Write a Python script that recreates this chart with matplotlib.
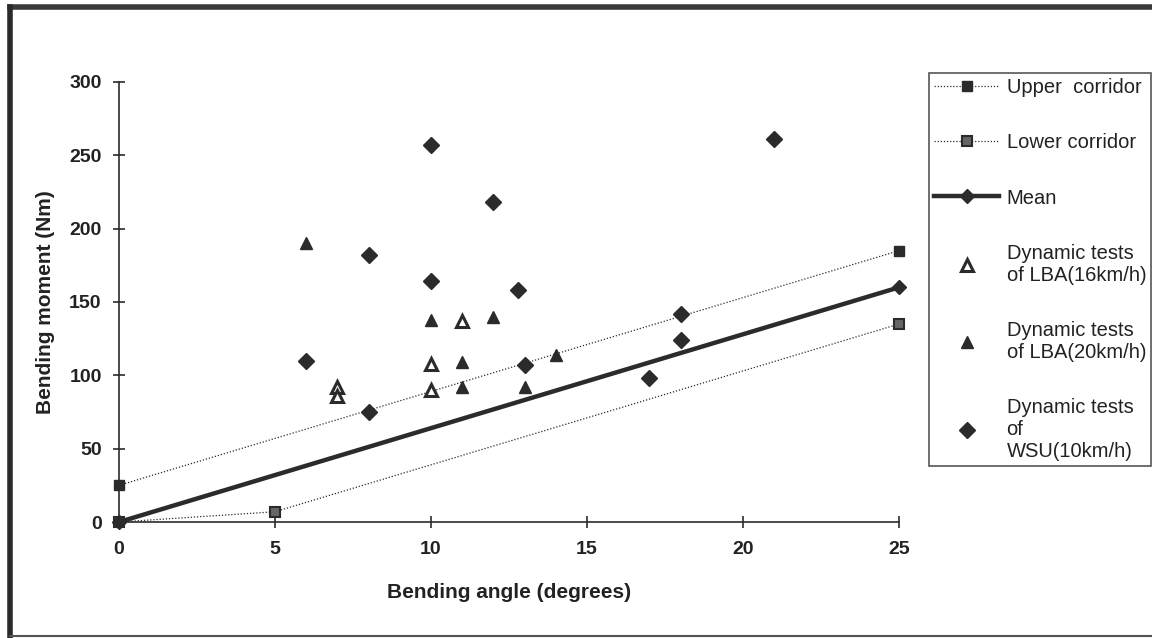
import matplotlib.pyplot as plt
from matplotlib.lines import Line2D

plt.rcParams["font.family"] = ["Liberation Sans", "DejaVu Sans"]

# ==============================================
# DATA

upper_x = [0, 25]
upper_y = [25, 185]

lower_x = [0, 5, 25]
lower_y = [0, 7, 135]

mean_x = [0, 25]
mean_y = [0, 160]

lba16_x = [7, 7, 10, 10, 11]
lba16_y = [92, 86, 108, 90, 137]

lba20_x = [6, 10, 11, 11, 12, 13, 14]
lba20_y = [190, 138, 109, 92, 140, 92, 114]

wsu_x = [6, 8, 8, 10, 10, 12, 12.8, 13, 17, 18, 18, 21]
wsu_y = [110, 182, 75, 257, 164, 218, 158, 107, 98, 142, 124, 261]

x_ticks = [0, 5, 10, 15, 20, 25]
y_ticks = [0, 50, 100, 150, 200, 250, 300]

labels = [
    "Upper  corridor",
    "Lower corridor",
    "Mean",
    "Dynamic tests\nof LBA(16km/h)",
    "Dynamic tests\nof LBA(20km/h)",
    "Dynamic tests\nof\nWSU(10km/h)",
]

# ==============================================
# PLOT

dark = "#2b2b2b"
txt = "#222222"

fig = plt.figure(figsize=(11.52, 6.38), dpi=100)
ax = fig.add_axes([0.1033, 0.1818, 0.6771, 0.6897])

h_up, = ax.plot(upper_x, upper_y, color=dark, linestyle=(0, (1, 1.5)), linewidth=0.9,
                marker="s", markersize=7, markerfacecolor=dark, markeredgecolor=dark,
                clip_on=False, zorder=3)
h_lo, = ax.plot(lower_x, lower_y, color=dark, linestyle=(0, (1, 1.5)), linewidth=0.9,
                marker="s", markersize=7, markerfacecolor="#666666", markeredgecolor=dark,
                markeredgewidth=1.5, clip_on=False, zorder=3)
h_mean, = ax.plot(mean_x, mean_y, color=dark, linewidth=3.2, marker="D", markersize=7.5,
                  markerfacecolor=dark, markeredgecolor=dark, clip_on=False, zorder=4)
h_16, = ax.plot(lba16_x, lba16_y, linestyle="none", marker="^", markersize=8,
                markerfacecolor="white", markeredgecolor=dark, markeredgewidth=2.2, zorder=5)
h_20, = ax.plot(lba20_x, lba20_y, linestyle="none", marker="^", markersize=9,
                markerfacecolor=dark, markeredgecolor=dark, zorder=5)
h_wsu, = ax.plot(wsu_x, wsu_y, linestyle="none", marker="D", markersize=7.8,
                 markerfacecolor=dark, markeredgecolor=dark, zorder=5)

ax.set_xlim(0, 25)
ax.set_ylim(0, 300)
ax.set_xticks(x_ticks)
ax.set_yticks(y_ticks)
ax.spines["top"].set_visible(False)
ax.spines["right"].set_visible(False)
for s in ["left", "bottom"]:
    ax.spines[s].set_color(dark)
    ax.spines[s].set_linewidth(1.2)
ax.tick_params(direction="inout", length=9, width=1.2, color=dark, labelsize=14)
ax.tick_params(axis="y", pad=8)
ax.tick_params(axis="x", pad=9)
for lbl in ax.get_xticklabels() + ax.get_yticklabels():
    lbl.set_fontweight("bold")
    lbl.set_color(txt)

ax.set_xlabel("Bending angle (degrees)", fontsize=15, fontweight="bold", color=txt, labelpad=18)
ax.set_ylabel("Bending moment (Nm)", fontsize=15, fontweight="bold", color=txt, labelpad=10)

leg = ax.legend([h_up, h_lo, h_mean, h_16, h_20, h_wsu], labels,
                loc="upper left", bbox_to_anchor=(929 / 1152, 1 - 73 / 638),
                bbox_transform=fig.transFigure, fontsize=14.5, frameon=True,
                fancybox=False, edgecolor=dark, handlelength=3.25, handletextpad=0.35,
                labelspacing=1.8, borderpad=0.25, borderaxespad=0)
leg.get_frame().set_linewidth(1.2)
for t in leg.get_texts():
    t.set_color(txt)

# outer frame of the picture
fig.add_artist(Line2D([10 / 1152, 1], [1 - 7 / 638, 1 - 7 / 638], color="#3a3a3a", linewidth=4))
fig.add_artist(Line2D([10 / 1152, 10 / 1152], [2 / 638, 1 - 7 / 638], color="#2a2a2a", linewidth=4))
fig.add_artist(Line2D([10 / 1152, 1], [2 / 638, 2 / 638], color="#555555", linewidth=1.5))

fig.savefig("out.png", dpi=100)
